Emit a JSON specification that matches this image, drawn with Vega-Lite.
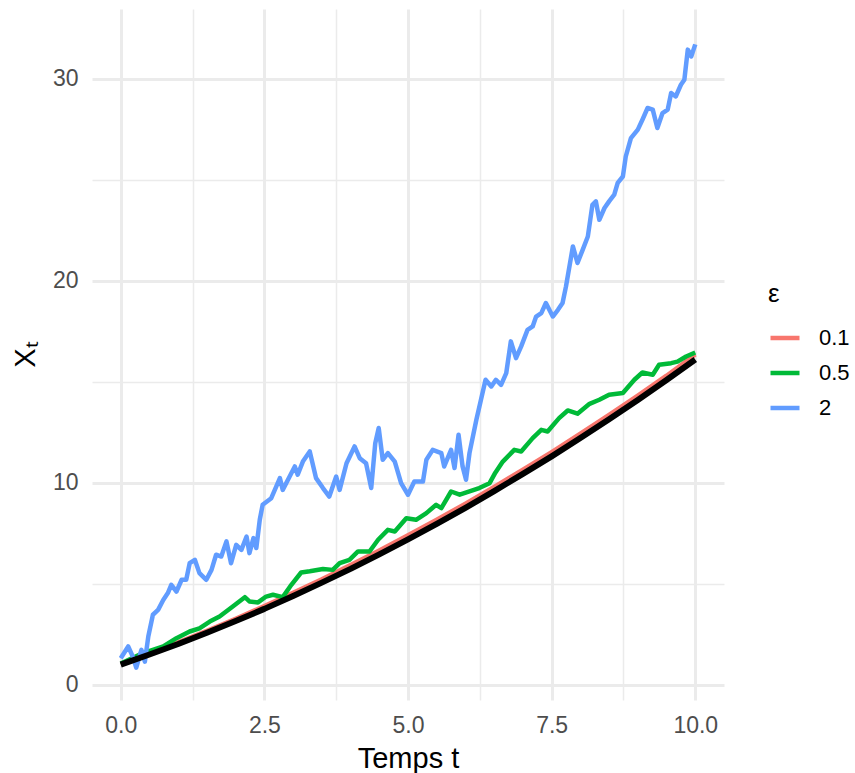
{
  "$schema": "https://vega.github.io/schema/vega-lite/v6.json",
  "autosize": {"type": "none"},
  "padding": {"left": 92, "top": 9, "right": 131, "bottom": 73},
  "width": 632,
  "height": 691,
  "background": "white",
  "config": {
    "view": {"stroke": null},
    "font": "Liberation Sans",
    "axis": {"zindex": 0}
  },
  "datasets": {
    "sim": [
      {"t": 0, "x": 1.02, "eps": "0.1"}, {"t": 0.5, "x": 1.55, "eps": "0.1"}, {"t": 1, "x": 2.1, "eps": "0.1"}, {"t": 1.5, "x": 2.67, "eps": "0.1"}, {"t": 2, "x": 3.27, "eps": "0.1"}, {"t": 2.5, "x": 3.9, "eps": "0.1"}, {"t": 3, "x": 4.55, "eps": "0.1"}, {"t": 3.5, "x": 5.22, "eps": "0.1"}, {"t": 4, "x": 5.93, "eps": "0.1"}, {"t": 4.5, "x": 6.65, "eps": "0.1"}, {"t": 5, "x": 7.4, "eps": "0.1"}, {"t": 5.5, "x": 8.17, "eps": "0.1"}, {"t": 6, "x": 8.97, "eps": "0.1"}, {"t": 6.5, "x": 9.8, "eps": "0.1"}, {"t": 7, "x": 10.65, "eps": "0.1"}, {"t": 7.5, "x": 11.52, "eps": "0.1"}, {"t": 8, "x": 12.43, "eps": "0.1"}, {"t": 8.5, "x": 13.36, "eps": "0.1"}, {"t": 9, "x": 14.31, "eps": "0.1"}, {"t": 9.5, "x": 15.3, "eps": "0.1"}, {"t": 10, "x": 16.35, "eps": "0.1"},

      {"t": 0, "x": 1.05, "eps": "0.5"}, {"t": 0.39, "x": 1.57, "eps": "0.5"}, {"t": 0.74, "x": 1.9, "eps": "0.5"}, {"t": 0.97, "x": 2.31, "eps": "0.5"}, {"t": 1.2, "x": 2.64, "eps": "0.5"}, {"t": 1.37, "x": 2.8, "eps": "0.5"}, {"t": 1.55, "x": 3.13, "eps": "0.5"}, {"t": 1.72, "x": 3.38, "eps": "0.5"}, {"t": 1.95, "x": 3.88, "eps": "0.5"}, {"t": 2.16, "x": 4.34, "eps": "0.5"}, {"t": 2.24, "x": 4.13, "eps": "0.5"}, {"t": 2.39, "x": 4.08, "eps": "0.5"}, {"t": 2.53, "x": 4.37, "eps": "0.5"}, {"t": 2.65, "x": 4.46, "eps": "0.5"}, {"t": 2.82, "x": 4.34, "eps": "0.5"}, {"t": 2.97, "x": 4.95, "eps": "0.5"}, {"t": 3.14, "x": 5.56, "eps": "0.5"}, {"t": 3.29, "x": 5.62, "eps": "0.5"}, {"t": 3.52, "x": 5.73, "eps": "0.5"}, {"t": 3.69, "x": 5.69, "eps": "0.5"}, {"t": 3.81, "x": 6.02, "eps": "0.5"}, {"t": 3.98, "x": 6.19, "eps": "0.5"}, {"t": 4.13, "x": 6.6, "eps": "0.5"}, {"t": 4.33, "x": 6.6, "eps": "0.5"}, {"t": 4.48, "x": 7.18, "eps": "0.5"}, {"t": 4.65, "x": 7.67, "eps": "0.5"}, {"t": 4.77, "x": 7.59, "eps": "0.5"}, {"t": 4.97, "x": 8.25, "eps": "0.5"}, {"t": 5.14, "x": 8.17, "eps": "0.5"}, {"t": 5.32, "x": 8.5, "eps": "0.5"}, {"t": 5.49, "x": 8.91, "eps": "0.5"}, {"t": 5.58, "x": 8.75, "eps": "0.5"}, {"t": 5.75, "x": 9.57, "eps": "0.5"}, {"t": 5.9, "x": 9.41, "eps": "0.5"}, {"t": 6.07, "x": 9.57, "eps": "0.5"}, {"t": 6.24, "x": 9.74, "eps": "0.5"}, {"t": 6.42, "x": 9.98, "eps": "0.5"}, {"t": 6.52, "x": 10.5, "eps": "0.5"}, {"t": 6.65, "x": 11.05, "eps": "0.5"}, {"t": 6.85, "x": 11.63, "eps": "0.5"}, {"t": 6.97, "x": 11.55, "eps": "0.5"}, {"t": 7.17, "x": 12.21, "eps": "0.5"}, {"t": 7.32, "x": 12.62, "eps": "0.5"}, {"t": 7.43, "x": 12.54, "eps": "0.5"}, {"t": 7.63, "x": 13.2, "eps": "0.5"}, {"t": 7.78, "x": 13.58, "eps": "0.5"}, {"t": 7.95, "x": 13.42, "eps": "0.5"}, {"t": 8.16, "x": 13.91, "eps": "0.5"}, {"t": 8.33, "x": 14.11, "eps": "0.5"}, {"t": 8.5, "x": 14.36, "eps": "0.5"}, {"t": 8.74, "x": 14.44, "eps": "0.5"}, {"t": 8.94, "x": 15.1, "eps": "0.5"}, {"t": 9.08, "x": 15.46, "eps": "0.5"}, {"t": 9.26, "x": 15.35, "eps": "0.5"}, {"t": 9.37, "x": 15.84, "eps": "0.5"}, {"t": 9.58, "x": 15.92, "eps": "0.5"}, {"t": 9.69, "x": 16.0, "eps": "0.5"}, {"t": 9.84, "x": 16.25, "eps": "0.5"}, {"t": 10, "x": 16.45, "eps": "0.5"},

      {"t": 0, "x": 1.32, "eps": "2"}, {"t": 0.13, "x": 1.9, "eps": "2"}, {"t": 0.21, "x": 1.4, "eps": "2"}, {"t": 0.27, "x": 0.85, "eps": "2"}, {"t": 0.36, "x": 1.73, "eps": "2"}, {"t": 0.42, "x": 1.15, "eps": "2"}, {"t": 0.48, "x": 2.39, "eps": "2"}, {"t": 0.56, "x": 3.47, "eps": "2"}, {"t": 0.65, "x": 3.71, "eps": "2"}, {"t": 0.74, "x": 4.2, "eps": "2"}, {"t": 0.82, "x": 4.54, "eps": "2"}, {"t": 0.88, "x": 4.95, "eps": "2"}, {"t": 0.97, "x": 4.62, "eps": "2"}, {"t": 1.06, "x": 5.2, "eps": "2"}, {"t": 1.14, "x": 5.2, "eps": "2"}, {"t": 1.2, "x": 6.02, "eps": "2"}, {"t": 1.29, "x": 6.19, "eps": "2"}, {"t": 1.37, "x": 5.53, "eps": "2"}, {"t": 1.49, "x": 5.2, "eps": "2"}, {"t": 1.58, "x": 5.69, "eps": "2"}, {"t": 1.66, "x": 6.44, "eps": "2"}, {"t": 1.75, "x": 6.35, "eps": "2"}, {"t": 1.84, "x": 7.1, "eps": "2"}, {"t": 1.92, "x": 6.02, "eps": "2"}, {"t": 2.01, "x": 6.93, "eps": "2"}, {"t": 2.1, "x": 6.68, "eps": "2"}, {"t": 2.19, "x": 7.34, "eps": "2"}, {"t": 2.24, "x": 6.52, "eps": "2"}, {"t": 2.31, "x": 7.26, "eps": "2"}, {"t": 2.36, "x": 6.77, "eps": "2"}, {"t": 2.42, "x": 8.17, "eps": "2"}, {"t": 2.47, "x": 8.91, "eps": "2"}, {"t": 2.62, "x": 9.24, "eps": "2"}, {"t": 2.77, "x": 10.23, "eps": "2"}, {"t": 2.82, "x": 9.65, "eps": "2"}, {"t": 2.94, "x": 10.31, "eps": "2"}, {"t": 3.03, "x": 10.81, "eps": "2"}, {"t": 3.08, "x": 10.4, "eps": "2"}, {"t": 3.17, "x": 11.05, "eps": "2"}, {"t": 3.29, "x": 11.55, "eps": "2"}, {"t": 3.4, "x": 10.23, "eps": "2"}, {"t": 3.52, "x": 9.74, "eps": "2"}, {"t": 3.63, "x": 9.32, "eps": "2"}, {"t": 3.75, "x": 10.31, "eps": "2"}, {"t": 3.81, "x": 9.65, "eps": "2"}, {"t": 3.93, "x": 10.97, "eps": "2"}, {"t": 4.07, "x": 11.8, "eps": "2"}, {"t": 4.16, "x": 11.22, "eps": "2"}, {"t": 4.27, "x": 10.97, "eps": "2"}, {"t": 4.36, "x": 9.74, "eps": "2"}, {"t": 4.43, "x": 11.96, "eps": "2"}, {"t": 4.49, "x": 12.71, "eps": "2"}, {"t": 4.56, "x": 11.14, "eps": "2"}, {"t": 4.65, "x": 11.47, "eps": "2"}, {"t": 4.77, "x": 11.05, "eps": "2"}, {"t": 4.88, "x": 9.98, "eps": "2"}, {"t": 5.0, "x": 9.41, "eps": "2"}, {"t": 5.11, "x": 10.06, "eps": "2"}, {"t": 5.26, "x": 10.06, "eps": "2"}, {"t": 5.32, "x": 11.14, "eps": "2"}, {"t": 5.43, "x": 11.63, "eps": "2"}, {"t": 5.58, "x": 11.47, "eps": "2"}, {"t": 5.63, "x": 10.81, "eps": "2"}, {"t": 5.75, "x": 11.63, "eps": "2"}, {"t": 5.81, "x": 10.73, "eps": "2"}, {"t": 5.88, "x": 12.38, "eps": "2"}, {"t": 5.95, "x": 10.81, "eps": "2"}, {"t": 6.01, "x": 10.15, "eps": "2"}, {"t": 6.07, "x": 11.47, "eps": "2"}, {"t": 6.19, "x": 13.12, "eps": "2"}, {"t": 6.27, "x": 14.11, "eps": "2"}, {"t": 6.35, "x": 15.1, "eps": "2"}, {"t": 6.45, "x": 14.77, "eps": "2"}, {"t": 6.53, "x": 15.1, "eps": "2"}, {"t": 6.62, "x": 14.85, "eps": "2"}, {"t": 6.71, "x": 15.43, "eps": "2"}, {"t": 6.79, "x": 17.0, "eps": "2"}, {"t": 6.88, "x": 16.17, "eps": "2"}, {"t": 6.97, "x": 16.75, "eps": "2"}, {"t": 7.08, "x": 17.57, "eps": "2"}, {"t": 7.17, "x": 17.74, "eps": "2"}, {"t": 7.23, "x": 18.23, "eps": "2"}, {"t": 7.32, "x": 18.4, "eps": "2"}, {"t": 7.4, "x": 18.9, "eps": "2"}, {"t": 7.52, "x": 18.23, "eps": "2"}, {"t": 7.61, "x": 18.56, "eps": "2"}, {"t": 7.69, "x": 18.9, "eps": "2"}, {"t": 7.75, "x": 19.72, "eps": "2"}, {"t": 7.87, "x": 21.7, "eps": "2"}, {"t": 7.95, "x": 20.88, "eps": "2"}, {"t": 8.04, "x": 21.53, "eps": "2"}, {"t": 8.13, "x": 22.19, "eps": "2"}, {"t": 8.21, "x": 23.76, "eps": "2"}, {"t": 8.27, "x": 23.93, "eps": "2"}, {"t": 8.33, "x": 23.02, "eps": "2"}, {"t": 8.42, "x": 23.6, "eps": "2"}, {"t": 8.5, "x": 23.93, "eps": "2"}, {"t": 8.59, "x": 24.26, "eps": "2"}, {"t": 8.65, "x": 24.84, "eps": "2"}, {"t": 8.74, "x": 25.16, "eps": "2"}, {"t": 8.79, "x": 26.15, "eps": "2"}, {"t": 8.88, "x": 27.06, "eps": "2"}, {"t": 9.0, "x": 27.48, "eps": "2"}, {"t": 9.08, "x": 27.97, "eps": "2"}, {"t": 9.17, "x": 28.55, "eps": "2"}, {"t": 9.26, "x": 28.47, "eps": "2"}, {"t": 9.34, "x": 27.56, "eps": "2"}, {"t": 9.43, "x": 28.3, "eps": "2"}, {"t": 9.52, "x": 28.47, "eps": "2"}, {"t": 9.58, "x": 29.29, "eps": "2"}, {"t": 9.66, "x": 29.12, "eps": "2"}, {"t": 9.75, "x": 29.7, "eps": "2"}, {"t": 9.81, "x": 29.95, "eps": "2"}, {"t": 9.87, "x": 31.44, "eps": "2"}, {"t": 9.93, "x": 31.1, "eps": "2"}, {"t": 10, "x": 31.7, "eps": "2"}
    ],
    "exact": [
      {"t": 0, "x": 1.0}, {"t": 0.5, "x": 1.5}, {"t": 1, "x": 2.02}, {"t": 1.5, "x": 2.58}, {"t": 2, "x": 3.16}, {"t": 2.5, "x": 3.76}, {"t": 3, "x": 4.4}, {"t": 3.5, "x": 5.06}, {"t": 4, "x": 5.74}, {"t": 4.5, "x": 6.46}, {"t": 5, "x": 7.2}, {"t": 5.5, "x": 7.97}, {"t": 6, "x": 8.76}, {"t": 6.5, "x": 9.59}, {"t": 7, "x": 10.44}, {"t": 7.5, "x": 11.31}, {"t": 8, "x": 12.22}, {"t": 8.5, "x": 13.15}, {"t": 9, "x": 14.1}, {"t": 9.5, "x": 15.09}, {"t": 10, "x": 16.1}
    ]
  },
  "resolve": {"axis": {"x": "independent", "y": "independent"}},
  "layer": [
    {
      "data": {"name": "sim"},
      "mark": {"type": "line", "strokeWidth": 4.5, "strokeJoin": "round", "strokeCap": "butt"},
      "encoding": {
        "x": {
          "field": "t", "type": "quantitative",
          "scale": {"domain": [-0.5, 10.5], "nice": false, "zero": false},
          "axis": {
            "values": [0, 2.5, 5, 7.5, 10], "format": ".1f",
            "grid": true, "gridColor": "#EBEBEB", "gridWidth": 3,
            "ticks": false, "tickSize": 0, "domain": false,
            "labelFont": "Liberation Sans", "labelFontSize": 23, "labelColor": "#4D4D4D", "labelPadding": 14,
            "title": "Temps t", "titleFont": "Liberation Sans", "titleFontSize": 29, "titleFontWeight": "normal", "titleColor": "#000000",
            "titleBaseline": "alphabetic", "titleX": 316, "titleY": 67, "titleAlign": "center"
          }
        },
        "y": {
          "field": "x", "type": "quantitative",
          "scale": {"domain": [-0.75, 33.45], "nice": false, "zero": false},
          "axis": {
            "values": [0, 10, 20, 30], "format": "d",
            "grid": true, "gridColor": "#EBEBEB", "gridWidth": 3,
            "ticks": false, "tickSize": 0, "domain": false,
            "labelFont": "Liberation Sans", "labelFontSize": 23, "labelColor": "#4D4D4D", "labelPadding": 14,
            "title": "Xₜ", "titleFont": "Liberation Sans", "titleFontSize": 29, "titleFontWeight": "normal", "titleColor": "#000000",
            "titleBaseline": "alphabetic", "titleAngle": -90, "titleX": -58, "titleY": 345, "titleAlign": "center"
          }
        },
        "color": {
          "field": "eps", "type": "nominal",
          "scale": {"domain": ["0.1", "0.5", "2"], "range": ["#F8766D", "#00BA38", "#619CFF"]},
          "legend": {
            "orient": "none", "legendX": 676, "legendY": 272,
            "title": "ε", "titleFont": "Liberation Sans", "titleFontSize": 26, "titleFontWeight": "normal", "titleColor": "#000000", "titlePadding": 14,
            "symbolType": "stroke", "symbolSize": 841, "symbolStrokeWidth": 4.5,
            "labelFont": "Liberation Sans", "labelFontSize": 22, "labelColor": "#000000", "labelOffset": 17,
            "rowPadding": 7, "padding": 0
          }
        }
      }
    },
    {
      "data": {"name": "exact"},
      "mark": {"type": "line", "color": "#000000", "strokeWidth": 6, "strokeJoin": "round"},
      "encoding": {
        "x": {
          "field": "t", "type": "quantitative",
          "axis": {
            "values": [1.25, 3.75, 6.25, 8.75], "grid": true, "gridColor": "#EBEBEB", "gridWidth": 1.5,
            "labels": false, "ticks": false, "domain": false, "title": null, "orient": "bottom"
          }
        },
        "y": {
          "field": "x", "type": "quantitative",
          "axis": {
            "values": [5, 15, 25], "grid": true, "gridColor": "#EBEBEB", "gridWidth": 1.5,
            "labels": false, "ticks": false, "domain": false, "title": null, "orient": "left"
          }
        }
      }
    }
  ]
}
